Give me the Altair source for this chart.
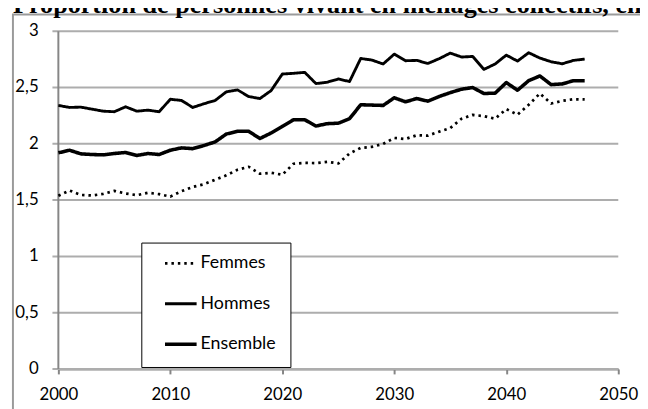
import altair as alt
import pandas as pd

years = list(range(2000, 2048))

femmes = [1.538, 1.585, 1.546, 1.541, 1.555, 1.582, 1.559, 1.544, 1.565, 1.553,
          1.531, 1.579, 1.617, 1.641, 1.681, 1.720, 1.770, 1.796, 1.734, 1.743,
          1.725, 1.823, 1.831, 1.829, 1.840, 1.826, 1.914, 1.964, 1.973, 1.999,
          2.052, 2.043, 2.076, 2.073, 2.108, 2.140, 2.223, 2.257, 2.246, 2.223,
          2.308, 2.259, 2.347, 2.447, 2.358, 2.382, 2.396, 2.394]

hommes = [2.341, 2.323, 2.326, 2.308, 2.290, 2.285, 2.329, 2.290, 2.299, 2.285,
          2.396, 2.385, 2.323, 2.356, 2.385, 2.462, 2.479, 2.420, 2.402, 2.473,
          2.620, 2.626, 2.635, 2.535, 2.547, 2.576, 2.553, 2.758, 2.744, 2.709,
          2.797, 2.738, 2.741, 2.714, 2.756, 2.806, 2.771, 2.776, 2.661, 2.709,
          2.788, 2.735, 2.809, 2.762, 2.729, 2.711, 2.741, 2.753]

ensemble = [1.920, 1.943, 1.911, 1.905, 1.902, 1.914, 1.923, 1.897, 1.914, 1.905,
            1.943, 1.964, 1.957, 1.985, 2.017, 2.087, 2.111, 2.111, 2.047, 2.096,
            2.155, 2.214, 2.214, 2.158, 2.179, 2.183, 2.223, 2.347, 2.344, 2.341,
            2.409, 2.373, 2.402, 2.379, 2.420, 2.455, 2.485, 2.500, 2.447, 2.450,
            2.544, 2.476, 2.561, 2.603, 2.526, 2.532, 2.561, 2.561]

series_names = ["Femmes", "Hommes", "Ensemble"]
x_ticks = [2000, 2010, 2020, 2030, 2040, 2050]
y_ticks = [0, 0.5, 1, 1.5, 2, 2.5, 3]
y_tick_labels = ["0", "0,5", "1", "1,5", "2", "2,5", "3"]
title_text = "Proportion de personnes vivant en ménages collectifs, en %"

rows = []
for k, (name, vals) in enumerate(zip(series_names, [femmes, hommes, ensemble])):
    for yr, v in zip(years, vals):
        rows.append({"annee": yr, "valeur": v, "serie": name, "ordre": k})
df = pd.DataFrame(rows)
grid_df = pd.DataFrame({"valeur": y_ticks, "lab": y_tick_labels})

FONT = "Lato"
GRID = "#adadad"
AXIS = "#868686"

x_scale = alt.Scale(domain=[2000, 2050], nice=False, zero=False)
y_scale = alt.Scale(domain=[0, 3], nice=False)
one = pd.DataFrame({"k": [0]})

# outer chart frame
frame = alt.Chart(one).mark_rect(
    fill="#ffffff", fillOpacity=0, stroke="#9a9a9a", strokeWidth=2
).encode(
    x=alt.value(-46), x2=alt.value(700), y=alt.value(-17), y2=alt.value(500)
)

# horizontal gridlines with left tick stubs (2px so they sit on whole pixels)
grid = alt.Chart(grid_df).mark_rule(color=GRID, strokeWidth=2).encode(
    y=alt.Y("valeur:Q", scale=y_scale, axis=None),
    x=alt.value(-6),
    x2=alt.value(567),
)

# title (cut by the top edge, as in the reference)
title = alt.Chart(pd.DataFrame({"t": [title_text]})).mark_text(
    font="Liberation Serif", fontSize=26.5, fontWeight="bold", color="#000000",
    align="left", baseline="alphabetic"
).encode(x=alt.value(-46), y=alt.value(-18), text="t:N")

# y axis labels
ylabels = alt.Chart(grid_df).mark_text(
    font=FONT, fontSize=17, color="#000000", align="right", baseline="middle"
).encode(
    y=alt.Y("valeur:Q", scale=y_scale, axis=None),
    x=alt.value(-20),
    text="lab:N",
)

# y axis line
ydomain = alt.Chart(one).mark_rule(color=AXIS, strokeWidth=2).encode(
    x=alt.value(0), y=alt.value(0), y2=alt.value(342))

lines = alt.Chart(df).mark_line(strokeCap="butt", strokeJoin="round").encode(
    x=alt.X("annee:Q", scale=x_scale,
            axis=alt.Axis(values=x_ticks, format="d", title=None, grid=False,
                          domainColor=AXIS, tickColor=AXIS, tickSize=5, tickWidth=2,
                          ticks=True, domainWidth=2,
                          labelFontSize=17, labelFont=FONT, labelColor="#000000",
                          labelPadding=13, labelFlush=False)),
    y=alt.Y("valeur:Q", scale=y_scale, axis=None),
    color=alt.Color("serie:N",
                    scale=alt.Scale(domain=series_names, range=["#000000", "#000000", "#000000"]),
                    legend=alt.Legend(title=None, orient="none", legendX=84, legendY=214,
                                      strokeColor="#000000", fillColor="#ffffff",
                                      padding=14, symbolType="stroke", symbolSize=1024,
                                      symbolOffset=8, labelOffset=2,
                                      labelFontSize=18, labelFont=FONT, labelColor="#000000",
                                      rowPadding=23, clipHeight=14)),
    strokeDash=alt.StrokeDash("serie:N",
                              scale=alt.Scale(domain=series_names,
                                              range=[[2.5, 4], [1, 0], [1, 0]])),
    strokeWidth=alt.StrokeWidth("serie:N",
                                scale=alt.Scale(type="ordinal", domain=series_names,
                                                range=[2.75, 2.9, 3.6])),
    order=alt.Order("ordre:Q"),
    detail="serie:N",
)

chart = alt.layer(frame, grid, title, ylabels, ydomain, lines).properties(
    width=567, height=342,
    autosize=alt.AutoSizeParams(type="none"),
    padding={"left": 51, "top": 21, "right": 22, "bottom": 38},
).configure_view(stroke=None)

chart.save("out.html", embed_options={"renderer": "svg", "actions": False})
